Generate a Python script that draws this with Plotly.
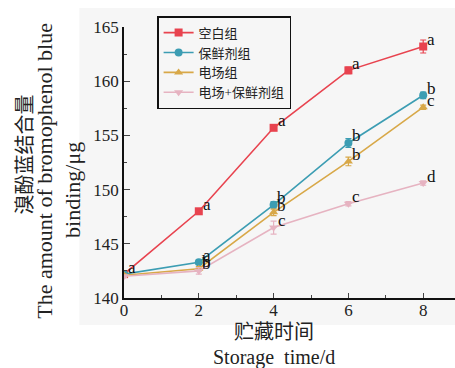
import plotly.graph_objects as go

days = [0, 2, 4, 6, 8]
series_names = ["空白组", "保鲜剂组", "电场组", "电场+保鲜剂组"]
blank = [142.2, 148.0, 155.7, 161.0, 163.2]
preservative = [142.2, 143.3, 148.6, 154.3, 158.7]
electric = [142.1, 142.7, 147.9, 152.6, 157.6]
combined = [142.0, 142.5, 146.5, 148.7, 150.6]
blank_err = [0.1, 0.15, 0.2, 0.3, 0.6]
preservative_err = [0.1, 0.2, 0.3, 0.4, 0.3]
electric_err = [0.1, 0.2, 0.3, 0.4, 0.2]
combined_err = [0.1, 0.3, 0.6, 0.2, 0.2]
blank_letters = ["a", "a", "a", "a", "a"]
preservative_letters = ["", "a", "b", "b", "b"]
electric_letters = ["", "b", "b", "b", "c"]
combined_letters = ["", "b", "c", "c", "d"]
y_title_lines = ["溴酚蓝结合量", "The amount of bromophenol blue", "binding/μg"]
x_title_lines = ["贮藏时间", "Storage  time/d"]

colors = ["#e8434f", "#3c9db3", "#d8a848", "#e6b3c1"]
symbols = ["square", "circle", "triangle-up", "triangle-down"]
values = [blank, preservative, electric, combined]
errs = [blank_err, preservative_err, electric_err, combined_err]
letters = [blank_letters, preservative_letters, electric_letters, combined_letters]

serif = "'Liberation Serif', 'Times New Roman', 'Noto Sans CJK SC', serif"
fig = go.Figure()

# light grey photographed background
fig.add_shape(type="rect", xref="paper", yref="paper", x0=-0.135, x1=1.0, y0=-0.1, y1=1.07,
              fillcolor="#f6f6f6", line_width=0, layer="below")

for name, vals, err, col, sym in zip(series_names, values, errs, colors, symbols):
    fig.add_trace(go.Scatter(
        x=days, y=vals, name=name, mode="lines+markers",
        line=dict(color=col, width=1.6),
        marker=dict(symbol=sym, size=8, color=col),
        error_y=dict(type="data", array=err, color=col, thickness=1.2, width=3),
    ))

annotations = []
for vals, labs in zip(values, letters):
    for d, v, lab in zip(days, vals, labs):
        if lab:
            annotations.append(dict(x=d, y=v, xref="x", yref="y", text=lab, showarrow=False,
                                    xshift=8, yshift=7,
                                    font=dict(family=serif, size=17, color="#111111")))

y_title_pos = [(-0.30, 0.528, 20), (-0.239, 0.469, 22), (-0.154, 0.399, 22)]
for txt, (px, py, fs) in zip(y_title_lines, y_title_pos):
    annotations.append(dict(x=px, y=py, xref="paper", yref="paper", textangle=-90,
                            text=txt, showarrow=False, xanchor="center", yanchor="middle",
                            font=dict(family=serif, size=fs, color="#222222")))
x_title_pos = [(-0.125, 20), (-0.218, 20)]
for txt, (py, fs) in zip(x_title_lines, x_title_pos):
    annotations.append(dict(x=4, y=py, xref="x", yref="paper", text=txt.replace("  ", "&nbsp; "),
                            showarrow=False, xanchor="center", yanchor="middle",
                            font=dict(family=serif, size=fs, color="#222222")))

fig.update_layout(
    width=455, height=368,
    margin=dict(l=124, r=0, t=27, b=70),
    paper_bgcolor="white", plot_bgcolor="rgba(0,0,0,0)",
    showlegend=True,
    legend=dict(x=0.1, y=1.04, xanchor="left", yanchor="top",
                bgcolor="#f6f6f6", bordercolor="#111111", borderwidth=1.5,
                font=dict(family=serif, size=13, color="#222222"),
                tracegroupgap=0, itemwidth=30),
    annotations=annotations,
    font=dict(family=serif),
)
fig.update_xaxes(range=[0, 8.85], dtick=2, tick0=0, ticks="inside", ticklen=5,
                 minor=dict(dtick=1, ticks="inside", ticklen=3), ticklabelstandoff=-4,
                 showline=True, linecolor="#111111", linewidth=1.5, showgrid=False,
                 zeroline=False, tickfont=dict(family=serif, size=17, color="#222222"))
fig.update_yaxes(range=[140, 165], dtick=5, tick0=140, ticks="inside", ticklen=6,
                 minor=dict(dtick=2.5, ticks="inside", ticklen=3),
                 showline=True, linecolor="#111111", linewidth=1.5, showgrid=False,
                 zeroline=False, tickfont=dict(family=serif, size=17, color="#222222"))

fig.write_html("out.html")
